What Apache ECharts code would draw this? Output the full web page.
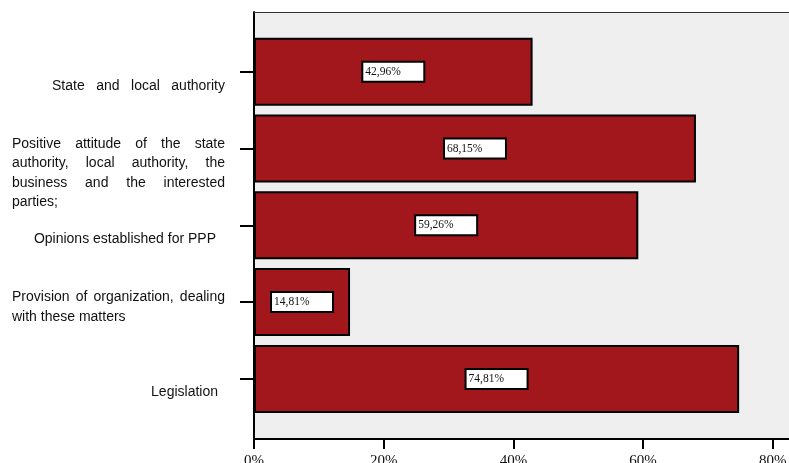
<!DOCTYPE html>
<html>
<head>
<meta charset="utf-8">
<script src="https://cdn.jsdelivr.net/npm/echarts@6/dist/echarts.min.js"></script>
<style>
  html, body { margin: 0; padding: 0; background: #fff; }
  #chart { width: 789px; height: 463px; }
</style>
</head>
<body>
<div id="chart"></div>
<script>
// Factors, each split into the lines it is printed on
const categoryLines = [
  ['State and local authority'],
  ['Positive attitude of the state', 'authority, local authority, the', 'business and the interested', 'parties;'],
  ['Opinions established for PPP'],
  ['Provision of organization, dealing', 'with these matters'],
  ['Legislation']
];
const categories = categoryLines.map(l => l.join(' '));

// Share of respondents (%)
const values = [42.96, 68.15, 59.26, 14.81, 74.81];

// Value axis ticks (%)
const xTicks = [0, 20, 40, 60, 80, 100];

// ---- label typesetting -------------------------------------------------
const measureCtx = document.createElement('canvas').getContext('2d');
function textWidth(str, font) { measureCtx.font = font; return measureCtx.measureText(str).width; }

const LABEL_FAMILY = "'Liberation Sans', Arial";
const LABEL_SIZE = 14;
const LABEL_FONT = LABEL_SIZE + 'px ' + LABEL_FAMILY;
const LINE_H = 19.5;
const BOX_W = 213;           // width of the label column

// per line: how it is set inside the label column
const lineSpecs = [
  { shift: 14.5, lines: [{ mode: 'justify', width: 173, pad: 0 }] },
  { shift: 24.5, lines: [{ mode: 'justify', width: 213, pad: 0 }, { mode: 'justify', width: 213, pad: 0 },
                         { mode: 'justify', width: 213, pad: 0 }, { mode: 'left' }] },
  { shift: 13.5, lines: [{ mode: 'right', pad: 9 }] },
  { shift: 5,    lines: [{ mode: 'justify', width: 213, pad: 0 }, { mode: 'left' }] },
  { shift: 13.5, lines: [{ mode: 'right', pad: 7 }] }
];

const rich = {
  t: { fontFamily: LABEL_FAMILY, fontSize: LABEL_SIZE, color: '#111', lineHeight: LINE_H }
};
function spacer(w, lh) {
  const key = 's' + Math.round(w * 100) + 'h' + Math.round((lh || LINE_H) * 10);
  rich[key] = { width: Math.max(w, 0.01), fontSize: 1, lineHeight: lh || LINE_H };
  return '{' + key + '| }';
}
function buildLine(text, spec) {
  const words = text.split(' ');
  const ww = words.map(w => textWidth(w, LABEL_FONT));
  const sum = ww.reduce((a, b) => a + b, 0);
  const sp = textWidth(' ', LABEL_FONT);
  let gap = sp, lead = 0;
  if (spec.mode === 'justify') {
    gap = words.length > 1 ? (spec.width - sum) / (words.length - 1) : 0;
    lead = BOX_W - spec.pad - spec.width;
  } else if (spec.mode === 'right') {
    lead = BOX_W - spec.pad - (sum + sp * (words.length - 1));
  }
  let out = lead > 0 ? spacer(lead) : '';
  words.forEach((w, i) => {
    if (i > 0) out += spacer(gap);
    out += '{t|' + w + '}';
  });
  return out;
}
const labelText = {};
categories.forEach((c, i) => {
  const spec = lineSpecs[i];
  const body = categoryLines[i].map((ln, k) => buildLine(ln, spec.lines[k])).join('\n');
  labelText[c] = spacer(1, spec.shift * 2) + '\n' + body;
});

// ---- chart ---------------------------------------------------------------
const chart = echarts.init(document.getElementById('chart'), null, { renderer: 'canvas' });
const xMin = xTicks[0], xMax = xTicks[xTicks.length - 1], xStep = xTicks[1] - xTicks[0];
const plotW = 648.5;

chart.setOption({
  animation: false,
  grid: [
    // frame and value scale (runs past the right edge of the canvas)
    { left: 254, top: 12, width: plotW, height: 427, show: true, backgroundColor: '#efefef',
      borderWidth: 0, outerBoundsMode: 'none', containLabel: false },
    // category bands
    { left: 254, top: 33.3, width: plotW, height: 384, show: false,
      outerBoundsMode: 'none', containLabel: false }
  ],
  xAxis: [
    {
      gridIndex: 0, type: 'value', position: 'bottom', min: xMin, max: xMax, interval: xStep,
      axisLine: { show: true, lineStyle: { color: '#000', width: 2 } },
      axisTick: { show: true, length: 10, lineStyle: { color: '#000', width: 2 } },
      axisLabel: { margin: 15, formatter: v => v + '%', color: '#111',
                   fontFamily: "'Liberation Serif', 'Times New Roman', serif", fontSize: 15 },
      splitLine: { show: false }
    },
    {
      gridIndex: 0, type: 'value', position: 'top', min: xMin, max: xMax, interval: xStep,
      axisLine: { show: true, onZero: false, lineStyle: { color: '#333', width: 1.2 } },
      axisTick: { show: false }, axisLabel: { show: false }, splitLine: { show: false }
    },
    {
      gridIndex: 1, type: 'value', min: xMin, max: xMax, interval: xStep, show: false,
      splitLine: { show: false }
    }
  ],
  yAxis: [
    {
      gridIndex: 0, type: 'value', min: 0, max: 1,
      axisLine: { show: true, lineStyle: { color: '#000', width: 2 } },
      axisTick: { show: false }, axisLabel: { show: false }, splitLine: { show: false }
    },
    {
      gridIndex: 1, type: 'category', data: categories, inverse: true,
      axisLine: { show: false },
      axisTick: { show: true, alignWithLabel: true, length: 14, lineStyle: { color: '#000', width: 2 } },
      axisLabel: {
        interval: 0, align: 'left', margin: 242,
        formatter: v => labelText[v], rich: rich
      },
      splitLine: { show: false }
    }
  ],
  series: [{
    type: 'bar',
    xAxisIndex: 2,
    yAxisIndex: 1,
    data: values,
    barWidth: 68,
    itemStyle: { color: '#a1171b', borderColor: '#000', borderWidth: 2 },
    label: {
      show: true,
      position: 'inside',
      formatter: p => '{v|' + p.value.toFixed(2).replace('.', ',') + '%}',
      backgroundColor: '#fff',
      borderColor: '#000',
      borderWidth: 2,
      padding: [3, 2, 3, 2],
      rich: {
        v: { width: 56, align: 'left', lineHeight: 12, fontSize: 11.5, color: '#111',
             fontFamily: "'Liberation Serif', 'Times New Roman', serif" }
      }
    }
  }]
});
</script>
</body>
</html>
